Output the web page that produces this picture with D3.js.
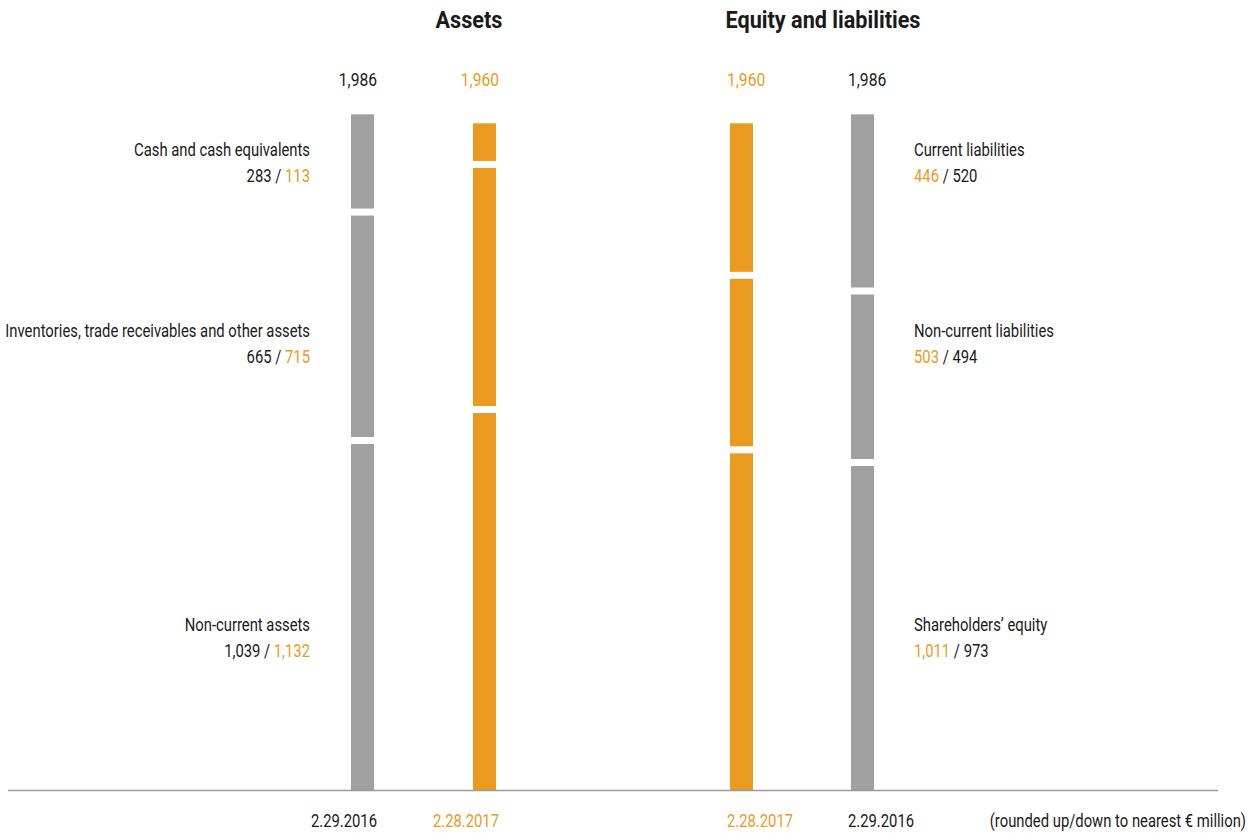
<!DOCTYPE html>
<html>
<head>
<meta charset="utf-8">
<script src="https://cdn.jsdelivr.net/npm/d3@7"></script>
<style>
  body { margin: 0; background: #fff; }
  svg text { font-family: Roboto, 'Liberation Sans', sans-serif; }
</style>
</head>
<body>
<div id="chart"></div>
<script>
const grey = '#a0a0a0'
const orange = '#ea9b1f'
const ink = '#1a1a1a'

// data, segments listed bottom to top
const assetLabels = ['Non-current assets', 'Inventories, trade receivables and other assets', 'Cash and cash equivalents']
const assets2016 = [1039, 665, 283]
const assets2017 = [1132, 715, 113]

const liabLabels = ["Shareholders\u2019 equity", 'Non-current liabilities', 'Current liabilities']
const liab2017 = [1011, 503, 446]
const liab2016 = [973, 494, 520]

const totals = { a2016: '1,986', a2017: '1,960', l2017: '1,960', l2016: '1,986' }
const dates = { a2016: '2.29.2016', a2017: '2.28.2017', l2017: '2.28.2017', l2016: '2.29.2016' }

const fmt = d3.format(',')

const width = 1257
const height = 834
const baseY = 790
const barW = 23
const gap = 7

const svg = d3
  .select('#chart')
  .append('svg')
  .attr('width', width)
  .attr('height', height)

// no condensed face installed: squeeze a regular one horizontally
function squeeze(str, size, weight, target) {
  const probe = svg
    .append('text')
    .style('font-size', size + 'px')
    .style('font-weight', weight)
    .text(str)
  const w = probe.node().getComputedTextLength()
  probe.remove()
  return target / w
}
const kReg = squeeze('Inventories, trade receivables and other assets', 18, 400, 305)
const kBold = squeeze('Equity and liabilities', 23, 700, 195)

function label(parent, x, y, anchor, opts = {}) {
  const size = opts.size || 18
  const weight = opts.weight || 400
  const k = weight > 400 ? kBold : kReg
  return parent
    .append('text')
    .attr('transform', 'translate(' + x + ',' + y + ') scale(' + k + ',1)')
    .attr('text-anchor', anchor)
    .style('font-size', size + 'px')
    .style('font-weight', weight)
    .style('fill', opts.fill || ink)
}

const columns = [
  { key: 'a2016', values: assets2016, color: grey, side: 'left' },
  { key: 'a2017', values: assets2017, color: orange, side: 'left' },
  { key: 'l2017', values: liab2017, color: orange, side: 'right' },
  { key: 'l2016', values: liab2016, color: grey, side: 'right' }
]

const xPositionScale = d3
  .scaleOrdinal()
  .domain(columns.map(d => d.key))
  .range([351, 473, 730, 851])

const hScale = d3.scaleLinear().domain([0, 2000]).range([0, 666])

// bars
columns.forEach(col => {
  const cum = [0, ...d3.cumsum(col.values)]
  const segs = col.values.map((v, i) => ({
    y1: baseY - hScale(cum[i]) - i * gap,
    y0: baseY - hScale(cum[i] + v) - i * gap
  }))

  svg
    .append('g')
    .selectAll('rect')
    .data(segs)
    .join('rect')
    .attr('x', xPositionScale(col.key))
    .attr('width', barW)
    .attr('y', d => d.y0)
    .attr('height', d => d.y1 - d.y0)
    .attr('fill', col.color)

  const left = col.side === 'left'
  const tx = left ? xPositionScale(col.key) + barW + 3 : xPositionScale(col.key) - 3
  const fill = col.color === grey ? ink : orange

  label(svg, tx, 86, left ? 'end' : 'start', { size: 19, fill }).text(totals[col.key])
  label(svg, tx, 827, left ? 'end' : 'start', { size: 18, fill }).text(dates[col.key])
})

// baseline
svg
  .append('line')
  .attr('x1', 8)
  .attr('x2', 1218)
  .attr('y1', baseY + 0.5)
  .attr('y2', baseY + 0.5)
  .style('stroke', '#999')
  .style('stroke-width', 1.5)

// titles
label(svg, 469, 28, 'middle', { size: 23, weight: 700 }).text('Assets')
label(svg, 823, 28, 'middle', { size: 23, weight: 700 }).text('Equity and liabilities')

// category labels
const labelRows = [631, 337, 156]

const leftG = svg.append('g')
assetLabels.forEach((name, i) => {
  label(leftG, 310, labelRows[i], 'end').text(name)
  const t = label(leftG, 310, labelRows[i] + 26, 'end')
  t.append('tspan').style('fill', ink).text(fmt(assets2016[i]) + ' / ')
  t.append('tspan').style('fill', orange).text(fmt(assets2017[i]))
})

const rightG = svg.append('g')
liabLabels.forEach((name, i) => {
  label(rightG, 914, labelRows[i], 'start').text(name)
  const t = label(rightG, 914, labelRows[i] + 26, 'start')
  t.append('tspan').style('fill', orange).text(fmt(liab2017[i]))
  t.append('tspan').style('fill', ink).text(' / ' + fmt(liab2016[i]))
})

// footnote
label(svg, 1246, 827, 'end', { size: 18 }).text('(rounded up/down to nearest \u20ac million)')
</script>
</body>
</html>
